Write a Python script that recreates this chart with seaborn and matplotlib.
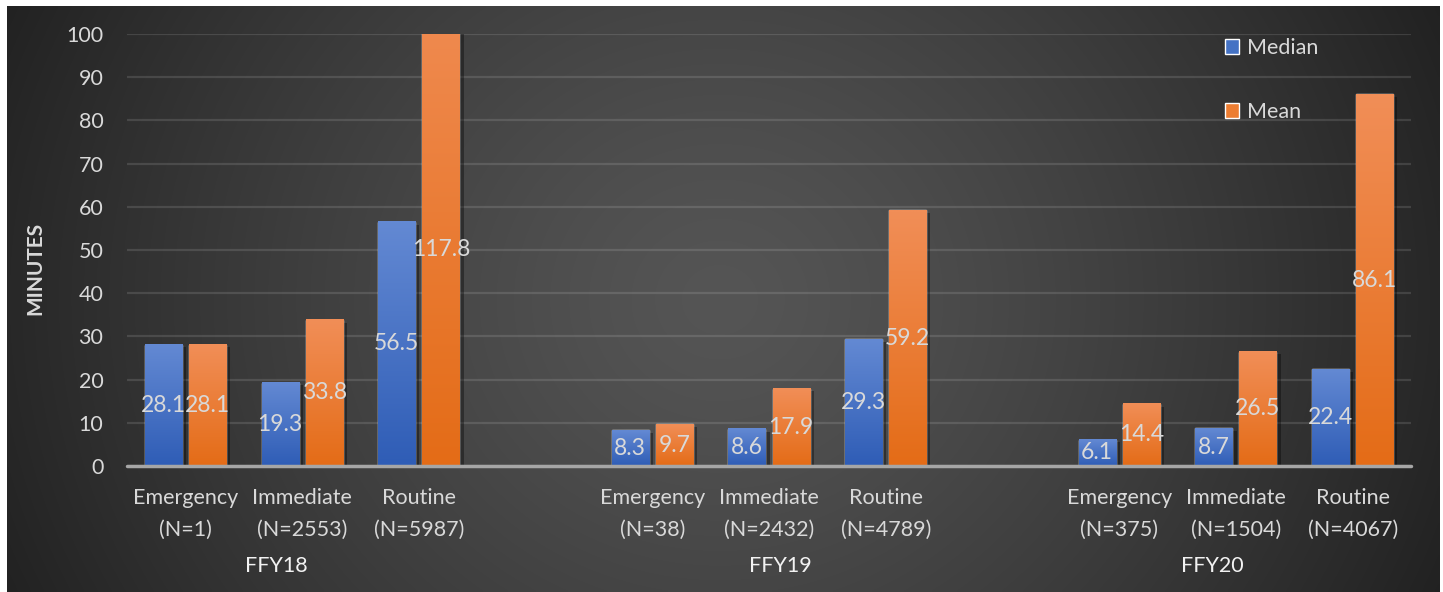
import numpy as np
import pandas as pd
import matplotlib
matplotlib.use("Agg")
import matplotlib.pyplot as plt
import matplotlib.patheffects as pe
from matplotlib.patches import Patch
from matplotlib.transforms import blended_transform_factory
import seaborn as sns

# ---------------- data ----------------
years = ["FFY18", "FFY19", "FFY20"]
request_types = ["Emergency", "Immediate", "Routine"]
counts_ffy18 = [1, 2553, 5987]
counts_ffy19 = [38, 2432, 4789]
counts_ffy20 = [375, 1504, 4067]
median_ffy18 = [28.1, 19.3, 56.5]
median_ffy19 = [8.3, 8.6, 29.3]
median_ffy20 = [6.1, 8.7, 22.4]
mean_ffy18 = [28.1, 33.8, 117.8]
mean_ffy19 = [9.7, 17.9, 59.2]
mean_ffy20 = [14.4, 26.5, 86.1]
series_names = ["Median", "Mean"]
y_ticks = [0, 10, 20, 30, 40, 50, 60, 70, 80, 90, 100]
y_label = "MINUTES"

counts = [counts_ffy18, counts_ffy19, counts_ffy20]
medians = [median_ffy18, median_ffy19, median_ffy20]
means = [mean_ffy18, mean_ffy19, mean_ffy20]

rows, order, group_center = [], [], []
for gi, (yr, ns, mds, mns) in enumerate(zip(years, counts, medians, means)):
    if gi > 0:
        order.append(" " * gi)  # empty slot between year groups
    for rt, n, md, mn in zip(request_types, ns, mds, mns):
        lab = f"{rt}\n(N={n})"
        order.append(lab)
        rows.append(dict(cat=lab, stat="Median", value=md, year=yr))
        rows.append(dict(cat=lab, stat="Mean", value=mn, year=yr))
    group_center.append(order.index(f"{request_types[1]}\n(N={ns[1]})"))
df = pd.DataFrame(rows)

# ---------------- style ----------------
sns.set_style("white")
plt.rcParams["font.family"] = ["Lato", "DejaVu Sans"]

W, H = 1443, 592
fig = plt.figure(figsize=(W / 100, H / 100), dpi=100)
fig.patch.set_facecolor("white")

# background radial gradient panel
bg = fig.add_axes([0, 0, 1, 1], zorder=-10)
bg.set_xlim(0, W)
bg.set_ylim(H, 0)
bg.axis("off")
xx, yy = np.meshgrid(np.linspace(7, 1440, 400), np.linspace(6, H, 200))
r = np.sqrt(((xx - 720) / 760) ** 2 + ((yy - 300) / 700) ** 2)
val = np.clip(85 - 49 * np.clip(r, 0, 1.2) ** 1.3, 30, 90) / 255.0
img = np.dstack([val, val, val])
bg.imshow(img, extent=(7, 1440, H, 6), aspect="auto", interpolation="bilinear")

ax = fig.add_axes([127 / W, 126 / H, 1284 / W, 432 / H])
ax.patch.set_alpha(0)

blue_mid, orange_mid = "#4472c4", "#ed7d31"
grad_cols = {"Median": ("#6389d3", "#2f5db6"), "Mean": ("#f18e57", "#e46c17")}

sns.barplot(data=df, x="cat", y="value", hue="stat", order=order,
            hue_order=series_names, palette=[blue_mid, orange_mid],
            width=0.755, gap=0.16, errorbar=None, legend=False,
            saturation=1, ax=ax)

ax.set_xlim(-0.5, len(order) - 0.5)
ax.set_ylim(0, 100)

# bar gradients, shadows and labels
for cont, name in zip(ax.containers, series_names):
    top, bot = grad_cols[name]
    tc = np.array(matplotlib.colors.to_rgb(top))
    bc = np.array(matplotlib.colors.to_rgb(bot))
    t = np.linspace(0, 1, 64)[:, None]
    g = (tc * (1 - t) + bc * t)[:, None, :]
    for bar in cont:
        h = bar.get_height()
        if not np.isfinite(h) or h <= 0:
            continue
        bar.set_path_effects([pe.SimplePatchShadow(offset=(3, -2), shadow_rgbFace="black", alpha=0.35),
                              pe.Normal()])
        x0, w = bar.get_x(), bar.get_width()
        im = ax.imshow(g, extent=(x0, x0 + w, 0, h), origin="upper", aspect="auto",
                       zorder=bar.get_zorder() + 0.1, interpolation="bilinear")
        im.set_clip_path(bar)
        im.set_clip_box(ax.bbox)
    labs = [f"{b.get_height():.1f}" if np.isfinite(b.get_height()) and b.get_height() > 0 else ""
            for b in cont]
    for t_ in ax.bar_label(cont, labels=labs, label_type="center", color="#d9d9d9",
                           fontsize=16.5):
        t_.set_zorder(6)

ax.set_xlim(-0.5, len(order) - 0.5)
ax.set_ylim(0, 100)

# axes styling
ax.set_yticks(y_ticks)
ax.grid(axis="y", color="white", alpha=0.12, lw=1.6)
ax.grid(axis="x", visible=False)
ax.set_axisbelow(True)
for s in ax.spines.values():
    s.set_visible(False)
ax.axhline(0, color="#a6a6a6", lw=2.5, zorder=5, clip_on=False)
ax.tick_params(axis="y", length=0, pad=17, labelsize=15.5, labelcolor="#d9d9d9")
ax.tick_params(axis="x", length=0, pad=16, labelsize=15.5, labelcolor="#d9d9d9")
for lab in ax.get_xticklabels():
    lab.set_linespacing(1.7)
ax.set_xlabel("")
ax.set_ylabel("")

# year group labels
tr = blended_transform_factory(ax.transData, ax.transAxes)
year_offsets = [-0.22, 0.1, -0.2]
for yr, c, off in zip(years, group_center, year_offsets):
    ax.text(c + off, -0.2315, yr, transform=tr, ha="center", va="center",
            fontsize=15.5, color="#f2f2f2")

fig.text(35 / W, 1 - 268 / H, y_label, rotation=90, ha="center", va="center",
         fontsize=15, fontweight="bold", color="#d9d9d9")

handles = [Patch(facecolor=blue_mid), Patch(facecolor=orange_mid)]
fig.legend(handles, series_names, loc="upper left",
           bbox_to_anchor=(1225 / W, 1 - 38 / H), frameon=False, fontsize=15.5,
           labelcolor="#d9d9d9", handlelength=0.65, handleheight=0.65,
           handletextpad=0.35, labelspacing=2.05, borderpad=0, borderaxespad=0)

fig.savefig("out.png", dpi=100)
